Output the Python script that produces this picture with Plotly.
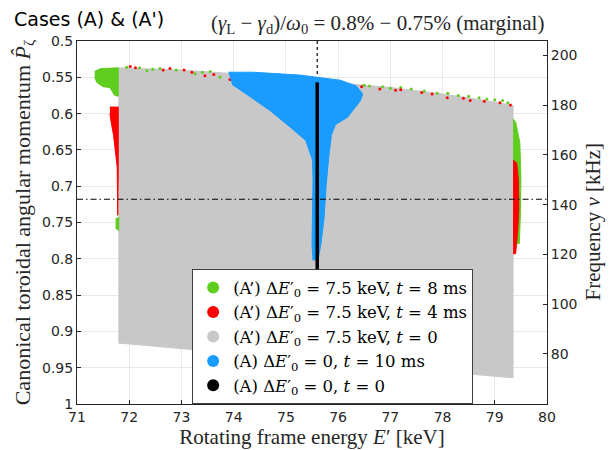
import plotly.graph_objects as go

# ---------------- data ----------------
# (A') t=0 : filled region of initial markers (polygon vertices E', P)
gray_E = [71.79, 73.0, 74.0, 75.0, 76.0, 77.0, 78.0, 79.0, 79.35, 79.35, 71.79]
gray_P = [0.537, 0.540, 0.545, 0.551, 0.557, 0.564, 0.573, 0.584, 0.589, 0.964, 0.916]

# (A') t=8 ms : green clusters (polygons) + speckles on top edge
green_left_E = [71.34, 71.45, 71.79, 71.79, 71.72, 71.63, 71.50, 71.38, 71.34]
green_left_P = [0.542, 0.538, 0.537, 0.576, 0.575, 0.564, 0.563, 0.557, 0.550]
green_low_E = [71.74, 71.80, 71.80, 71.74]
green_low_P = [0.745, 0.743, 0.761, 0.758]
green_right_E = [79.35, 79.40, 79.48, 79.50, 79.49, 79.47, 79.35]
green_right_P = [0.607, 0.612, 0.640, 0.690, 0.740, 0.779, 0.779]
green_dots_E = [71.95, 72.20, 72.34, 72.45, 72.59, 72.9, 73.26, 73.40, 73.55, 73.74, 74.1,
                76.5, 76.6, 76.85, 77.0, 77.2, 77.4, 77.65, 77.9, 78.1, 78.3, 78.5, 78.7,
                78.85, 79.0, 79.15, 79.25]
green_dots_P = [0.536, 0.537, 0.541, 0.539, 0.538, 0.540, 0.545, 0.543, 0.542, 0.550, 0.547,
                0.561, 0.562, 0.563, 0.565, 0.564, 0.566, 0.569, 0.572, 0.572, 0.575, 0.576,
                0.578, 0.580, 0.581, 0.582, 0.585]

# (A') t=4 ms : red clusters + speckles
red_left_E = [71.63, 71.79, 71.79, 71.78, 71.77, 71.70, 71.65, 71.63]
red_left_P = [0.591, 0.591, 0.680, 0.740, 0.674, 0.630, 0.610, 0.600]
red_right_E = [79.35, 79.42, 79.45, 79.46, 79.44, 79.40, 79.35]
red_right_P = [0.664, 0.668, 0.690, 0.730, 0.760, 0.793, 0.793]
red_dots_E = [72.02, 72.12, 72.65, 72.78, 73.05, 73.20, 73.45, 73.62, 73.93, 76.23, 76.45,
              76.8, 77.1, 77.2, 77.6, 77.8, 78.09, 78.4, 78.53, 78.8, 79.10, 79.3]
red_dots_P = [0.535, 0.537, 0.540, 0.538, 0.540, 0.543, 0.548, 0.546, 0.553, 0.561, 0.563,
              0.566, 0.568, 0.567, 0.571, 0.573, 0.578, 0.579, 0.582, 0.583, 0.585, 0.588]

# (A) t=10 ms : blue funnel
blue_E = [73.90, 74.37, 75.27, 76.04, 76.35, 76.47, 76.43, 76.18, 75.95, 75.87, 75.82,
          75.77, 75.73, 75.67, 75.62, 75.52, 75.50, 75.52, 75.52, 75.51, 75.38, 75.09,
          74.70, 74.22, 73.97]
blue_P = [0.543, 0.543, 0.547, 0.554, 0.562, 0.573, 0.582, 0.605, 0.615, 0.630, 0.660,
          0.700, 0.745, 0.780, 0.800, 0.802, 0.780, 0.720, 0.692, 0.664, 0.637, 0.619,
          0.596, 0.572, 0.560]

# (A) t=0 : black line of initial markers
black_E = [75.6, 75.6]
black_P = [0.557, 0.830]

# reference lines
mode_E = 75.6          # dotted vertical
resonance_P = 0.718    # dash-dot horizontal

x_ticks = [71, 72, 73, 74, 75, 76, 77, 78, 79, 80]
y_ticks = [0.5, 0.55, 0.6, 0.65, 0.7, 0.75, 0.8, 0.85, 0.9, 0.95, 1]
y_tick_text = ["0.5", "0.55", "0.6", "0.65", "0.7", "0.75", "0.8", "0.85", "0.9", "0.95", "1"]
freq_ticks = [80, 100, 120, 140, 160, 180, 200]
freq_range = [59.9, 205.8]

legend_labels = [
    "(A’) Δ<i>E</i>′<sub>0</sub> = 7.5 keV, <i>t</i> = 8 ms",
    "(A’) Δ<i>E</i>′<sub>0</sub> = 7.5 keV, <i>t</i> = 4 ms",
    "(A’) Δ<i>E</i>′<sub>0</sub> = 7.5 keV, <i>t</i> = 0",
    "(A) Δ<i>E</i>′<sub>0</sub> = 0, <i>t</i> = 10 ms",
    "(A) Δ<i>E</i>′<sub>0</sub> = 0, <i>t</i> = 0",
]
GREEN, RED, GRAY, BLUE, BLACK = "#5fcd1e", "#ff0000", "#c8c8c8", "#1a9bff", "#000000"
colors = [GREEN, RED, GRAY, BLUE, BLACK]

SERIF = "Liberation Serif, DejaVu Serif, serif"
LEGSERIF = "DejaVu Serif, serif"
SANS = "DejaVu Sans, sans-serif"
AX = "#262626"

fig = go.Figure()

# dotted vertical line (under clouds)
fig.add_trace(go.Scatter(x=[mode_E, mode_E], y=[0.5, 1.0], mode="lines",
                         line=dict(color="black", width=1.2, dash="dot"),
                         showlegend=False, hoverinfo="skip"))

def poly(xs, ys, color):
    fig.add_trace(go.Scatter(x=xs, y=ys, mode="lines", fill="toself", fillcolor=color,
                             line=dict(color=color, width=1), showlegend=False,
                             hoverinfo="skip"))

poly(gray_E, gray_P, GRAY)
poly(green_left_E, green_left_P, GREEN)
poly(green_low_E, green_low_P, GREEN)
poly(green_right_E, green_right_P, GREEN)
fig.add_trace(go.Scatter(x=green_dots_E, y=green_dots_P, mode="markers",
                         marker=dict(color=GREEN, size=3), showlegend=False, hoverinfo="skip"))
poly(red_left_E, red_left_P, RED)
poly(red_right_E, red_right_P, RED)
fig.add_trace(go.Scatter(x=red_dots_E, y=red_dots_P, mode="markers",
                         marker=dict(color=RED, size=3), showlegend=False, hoverinfo="skip"))
poly(blue_E, blue_P, BLUE)
fig.add_trace(go.Scatter(x=black_E, y=black_P, mode="lines",
                         line=dict(color=BLACK, width=3.5), showlegend=False, hoverinfo="skip"))

# dash-dot horizontal line
fig.add_trace(go.Scatter(x=[71, 80], y=[resonance_P, resonance_P], mode="lines",
                         line=dict(color="black", width=1.2, dash="6px,3px,1.5px,3px"),
                         showlegend=False, hoverinfo="skip"))

# legend entries
for lab, col in zip(legend_labels, colors):
    fig.add_trace(go.Scatter(x=[None], y=[None], mode="markers", name=lab,
                             marker=dict(color=col, size=11)))

# invisible trace for right axis
fig.add_trace(go.Scatter(x=[None], y=[None], yaxis="y2", showlegend=False))

fig.update_layout(
    width=608, height=442,
    margin=dict(l=69, r=69, t=33, b=46, autoexpand=False),
    paper_bgcolor="white", plot_bgcolor="white",
    showlegend=True,
    legend=dict(x=0.245, y=0.371, xanchor="left", yanchor="top",
                bgcolor="white", bordercolor="#404040", borderwidth=1,
                font=dict(family=LEGSERIF, size=16.5, color="black"),
                tracegroupgap=0, itemsizing="constant"),
    xaxis=dict(range=[71, 80], tickvals=x_ticks, ticks="inside", ticklen=4,
               tickcolor=AX, showline=True, linecolor=AX, linewidth=1, mirror=True,
               showgrid=True, gridcolor="#e8e8e8", zeroline=False, automargin=False,
               tickfont=dict(family=SANS, size=14, color=AX),
               title=dict(text="Rotating frame energy <i>E</i>′ [keV]",
                          font=dict(family=SERIF, size=21, color=AX), standoff=3)),
    yaxis=dict(range=[1, 0.5], tickvals=y_ticks, ticktext=y_tick_text, ticks="inside",
               ticklen=4, tickcolor=AX, showline=True, linecolor=AX, linewidth=1,
               mirror=True, showgrid=True, gridcolor="#e8e8e8", zeroline=False,
               automargin=False,
               tickfont=dict(family=SANS, size=14, color=AX),
               title=dict(text="Canonical toroidal angular momentum <i>P̂</i><sub>ζ</sub>",
                          font=dict(family=SERIF, size=22, color=AX), standoff=5)),
    yaxis2=dict(range=freq_range, tickvals=freq_ticks, overlaying="y", side="right",
                ticks="inside", ticklen=4, tickcolor=AX, showline=True, linecolor=AX,
                showgrid=False, zeroline=False, automargin=False,
                tickfont=dict(family=SANS, size=14, color=AX)),
    annotations=[
        dict(text="Cases (A) & (A')", xref="paper", yref="paper",
             x=-0.138, y=1.0, xanchor="left", yanchor="bottom", yshift=9, showarrow=False,
             font=dict(family=SANS, size=19, color="black")),
        dict(text="(<i>γ</i><sub>L</sub> − <i>γ</i><sub>d</sub>)/<i>ω</i><sub>0</sub> = 0.8% − 0.75% (marginal)",
             xref="paper", yref="paper", x=0.64, y=1.0, xanchor="center", yanchor="bottom",
             yshift=2, showarrow=False, font=dict(family=SERIF, size=21, color=AX)),
        dict(text="Frequency <i>ν</i> [kHz]", xref="paper", yref="paper",
             x=1.0, y=0.5, xanchor="center", yanchor="middle", xshift=45, textangle=-90,
             showarrow=False, font=dict(family=SERIF, size=21, color=AX)),
    ],
)

fig.write_html("out.html")
